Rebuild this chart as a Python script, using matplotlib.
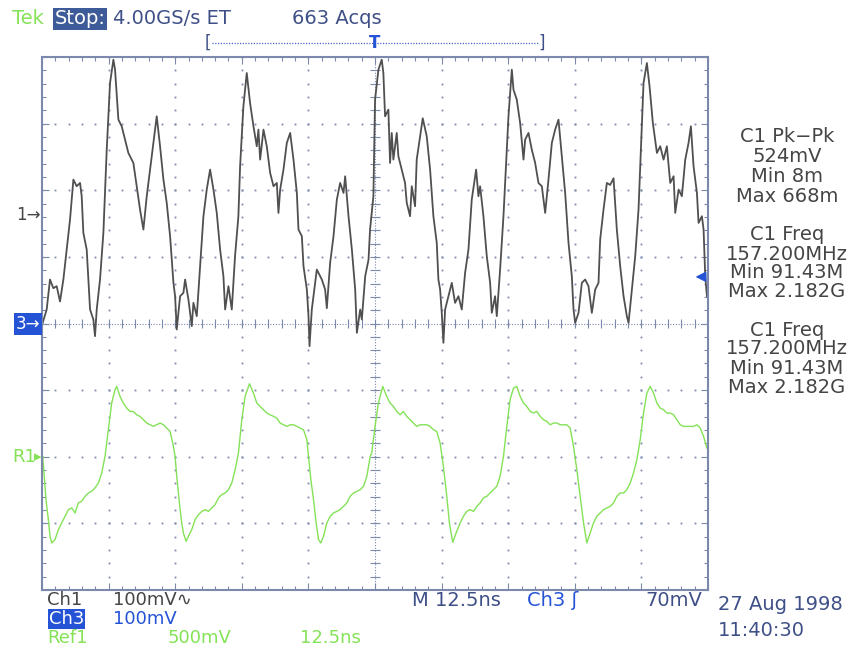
import numpy as np
import matplotlib.pyplot as plt

# Ch1 trace (time in ns, amplitude in mV, 100 mV/div)
ch1_t = [0.13, 0.88, 1.50, 2.13, 2.76, 3.38, 4.01, 4.63, 5.26, 5.89, 6.51, 7.14, 7.45, 7.76, 8.39,
         8.70, 9.02, 9.64, 9.95, 10.27, 10.89, 11.52, 12.15, 12.77, 13.40, 13.71, 14.34, 14.96, 15.59,
         16.21, 17.15, 17.78, 18.40, 19.03, 19.66, 20.28, 20.91, 21.53, 22.16, 22.79, 23.41, 24.04,
         24.67, 24.98, 25.29, 25.92, 26.54, 26.86, 27.48, 28.11, 28.42, 29.05, 29.67, 30.30, 30.92,
         31.55, 32.18, 32.80, 33.43, 34.05, 34.37, 34.99, 35.62, 36.23, 36.86, 37.18, 37.80, 38.43,
         39.05, 39.69, 40.31, 40.62, 40.94, 41.57, 42.19, 42.82, 43.45, 44.07, 44.38, 44.70, 45.32,
         45.95, 46.58, 47.20, 47.83, 48.14, 48.77, 49.08, 49.71, 50.02, 50.21, 50.64, 51.27, 51.58,
         52.52, 53.14, 53.46, 54.08, 54.71, 55.34, 55.96, 56.59, 56.90, 57.53, 58.16, 58.78, 59.10,
         59.72, 60.03, 60.66, 61.29, 61.57, 62.20, 62.51, 63.14, 63.76, 64.07, 64.39, 65.01, 65.33,
         65.64, 65.95, 66.58, 66.89, 67.52, 68.14, 68.46, 69.08, 69.40, 70.02, 70.33, 70.96, 71.46,
         72.21, 72.84, 73.46, 74.09, 74.40, 74.72, 75.03, 75.34, 75.66, 76.28, 76.91, 77.53, 78.16,
         78.79, 79.41, 80.04, 80.66, 81.48, 81.91, 82.23, 82.85, 83.48, 84.11, 84.42, 85.04, 85.36,
         85.98, 86.61, 86.92, 87.55, 88.18, 88.49, 89.11, 89.74, 90.37, 90.68, 91.31, 91.93, 92.56,
         93.18, 93.81, 94.44, 95.06, 95.69, 96.31, 96.94, 97.57, 98.19, 98.82, 99.44, 99.76, 100.07,
         100.70, 101.32, 101.95, 102.57, 103.20, 103.83, 104.45, 104.76, 105.39, 106.02, 106.64,
         107.27, 107.89, 108.52, 109.15, 109.77, 110.09, 110.71, 111.34, 111.96, 112.40, 112.90,
         113.53, 114.03, 114.65, 115.41, 116.03, 116.66, 117.28, 117.91, 118.54, 118.85, 119.48,
         120.10, 120.73, 121.35, 121.79, 122.29, 122.92, 123.23, 123.86, 124.17, 124.48, 124.80]
ch1_mv = [-162, -142, -97, -110, -107, -130, -97, -52, -7, 53, 43, 48, 28, -27, -52,
          -97, -142, -157, -182, -142, -97, -27, 98, 198, 233, 218, 143, 133, 113,
          93, 78, 43, 8, -22, 28, 68, 108, 148, 103, 53, 18, -32,
          -102, -122, -172, -122, -117, -97, -127, -167, -132, -152, -77, -2, 38,
          68, 38, 3, -52, -92, -142, -107, -142, -62, -2, 73, 163, 213,
          168, 133, 103, 128, 83, 128, 103, 63, 43, 48, 3, 38, 68,
          108, 123, 83, 33, -22, -32, -77, -112, -152, -197, -142, -102, -82,
          -97, -112, -140, -72, -32, 23, 48, 33, 58, -2, -52, -112, -177,
          -142, -157, -92, -67, -22, 28, 173, 218, 233, 213, 148, 158, 78,
          123, 83, 123, 88, 68, 48, 18, -2, 43, 13, 83, 118, 145,
          118, 68, -2, -42, -97, -112, -147, -192, -142, -122, -102, -132, -122,
          -142, -87, -52, 23, 68, 28, 43, -2, -62, -102, -147, -122, -152,
          -82, -2, 48, 148, 218, 188, 173, 138, 83, 113, 123, 98, 78,
          48, 43, 3, 53, 108, 128, 143, 88, 33, -42, -92, -142, -162,
          -147, -102, -97, -107, -147, -112, -102, -37, 8, 48, 45,
          55, -22, -77, -122, -152, -162, -112, -62, 8, 98, 198,
          228, 193, 138, 93, 103, 83, 103, 48, 58, 3, 38,
          28, 83, 108, 133, 73, 33, -12, -2, -22, -92, -122]

# Ref1 trace (time in ns, amplitude in mV, 500 mV/div)
ref1_t = [0.13, 0.38, 0.75, 1.19, 1.50, 1.82, 2.44, 3.07, 3.69, 4.32, 4.95, 5.57, 6.20, 6.82, 7.45,
          8.08, 8.70, 9.33, 9.95, 10.58, 11.21, 11.83, 12.46, 13.08, 13.71, 14.02, 14.65, 15.27, 15.90,
          16.53, 17.15, 17.78, 18.40, 19.03, 19.66, 20.28, 20.91, 21.53, 22.16, 22.79, 23.41, 24.04,
          24.67, 24.98, 25.29, 25.60, 25.92, 26.23, 26.54, 27.04, 27.48, 28.11, 28.73, 29.36, 29.99,
          30.61, 31.24, 31.86, 32.49, 33.12, 33.74, 34.37, 34.99, 35.62, 36.25, 36.87, 37.50, 38.12,
          38.94, 39.69, 40.31, 40.94, 41.57, 42.19, 42.82, 43.45, 44.07, 44.70, 45.32, 45.95, 46.58,
          47.20, 47.83, 48.45, 49.08, 49.71, 50.02, 50.46, 50.96, 51.46, 51.90, 52.34, 52.84, 53.46,
          54.09, 54.71, 55.34, 55.96, 56.59, 57.22, 57.84, 58.47, 59.10, 59.72, 60.35, 60.97, 61.60,
          61.88, 62.51, 63.14, 63.95, 64.70, 65.33, 65.95, 66.58, 67.20, 67.83, 68.46, 69.08, 69.71,
          70.33, 70.96, 71.59, 72.21, 72.84, 73.46, 74.09, 74.72, 75.34, 75.97, 76.47, 77.09, 77.72,
          78.47, 79.10, 79.72, 80.35, 80.98, 81.60, 82.23, 82.85, 83.48, 84.11, 84.73, 85.36, 85.98,
          86.61, 87.24, 87.86, 88.49, 89.11, 89.74, 90.37, 90.99, 91.62, 92.24, 92.87, 93.50, 94.12,
          94.75, 95.37, 96.00, 96.63, 97.25, 97.88, 98.50, 99.13, 99.76, 100.38, 101.01, 101.64,
          102.26, 102.89, 103.51, 104.14, 104.76, 105.39, 106.02, 106.64, 107.27, 107.89, 108.52,
          109.15, 109.77, 110.40, 111.02, 111.65, 112.28, 112.90, 113.53, 114.15, 114.78, 115.41,
          116.03, 116.66, 117.28, 117.91, 118.54, 119.16, 119.79, 120.42, 121.04, 121.67, 122.29,
          122.92, 123.54, 124.17, 124.80]
ref1_mv = [3, -122, -322, -472, -597, -647, -622, -547, -497, -447, -397, -384, -422, -347, -334,
           -297, -272, -259, -234, -197, -122, 3, 203, 403, 503, 528, 453, 403, 365,
           340, 340, 315, 303, 278, 253, 240, 228, 240, 253, 240, 215, 190,
           78, 3, -147, -272, -397, -497, -572, -635, -597, -547, -472, -435, -410,
           -397, -410, -384, -359, -309, -284, -272, -247, -197, -97, 28, 278, 453,
           548, 478, 403, 378, 353, 328, 315, 303, 290, 253, 240, 228, 240,
           240, 228, 215, 203, 128, 3, -172, -322, -497, -622, -647, -597, -497,
           -447, -422, -410, -397, -372, -347, -297, -272, -259, -247, -222, -147, 3,
           28, 228, 403, 528, 453, 403, 378, 340, 315, 340, 303, 278, 253,
           228, 240, 240, 240, 228, 203, 190, 103, -72, -297, -497, -642, -572,
           -497, -447, -410, -397, -410, -372, -347, -309, -297, -272, -247, -222, -147,
           3, 228, 428, 515, 528, 453, 403, 378, 340, 328, 340, 303, 278,
           265, 240, 253, 253, 240, 240, 240, 215, 78, -97, -297, -497,
           -647, -572, -497, -447, -422, -397, -384, -372, -347, -297, -272,
           -272, -247, -197, -122, -22, 128, 328, 478, 528, 478, 403,
           365, 353, 328, 328, 315, 278, 240, 228, 228, 228, 228,
           240, 215, 153, 65]

ns_per_div = 12.5
ch1_mv_per_div = 100
ref1_mv_per_div = 500
ch1_pos = 1.63    # divisions above screen centre
ref1_pos = -2.0

W, H = 867, 649
GRID = '#7d88ad'
SLATE = '#3f5088'
GREEN = '#84e257'
DARK = '#454545'
BLUE = '#2553d6'


def fx(x):
    return x / W


def fy(y):
    return 1 - y / H


fig = plt.figure(figsize=(W / 100, H / 100), dpi=100)
ax = fig.add_axes([fx(42), fy(590), 666 / W, 533 / H])
ax.set_xlim(0, 10)
ax.set_ylim(-4, 4)

# graticule
gx = np.arange(0, 10.01, 0.2)
gy = np.arange(-4, 4.01, 0.2)
for yl in [-3, -2, -1, 1, 2, 3]:
    ax.plot(gx, np.full_like(gx, yl), ls='none', marker='s', ms=1.3, mew=0, color=GRID)
for xl in [1, 2, 3, 4, 6, 7, 8, 9]:
    ax.plot(np.full_like(gy, xl), gy, ls='none', marker='s', ms=1.3, mew=0, color=GRID)
ax.axhline(0, color=GRID, lw=0.8, ls=(0, (1, 1.5)))
ax.axvline(5, color=GRID, lw=0.8, ls=(0, (1, 1.5)))
ax.vlines(gx, -0.07, 0.07, color=GRID, lw=0.8)
ax.hlines(gy, 4.93, 5.07, color=GRID, lw=0.8)

ax.set_xticks(range(11))
ax.set_yticks(range(-4, 5))
ax.set_xticks(gx, minor=True)
ax.set_yticks(gy, minor=True)
ax.tick_params(which='both', direction='in', top=True, right=True, color=GRID,
               labelbottom=False, labelleft=False)
ax.tick_params(which='major', length=5, width=0.8)
ax.tick_params(which='minor', length=3, width=0.8)
for s in ax.spines.values():
    s.set_color(GRID)
    s.set_linewidth(1.5)

# traces
ax.plot(np.array(ref1_t) / ns_per_div, np.array(ref1_mv) / ref1_mv_per_div + ref1_pos,
        color=GREEN, lw=1.0)
ax.plot(np.array(ch1_t) / ns_per_div, np.array(ch1_mv) / ch1_mv_per_div + ch1_pos,
        color='#505050', lw=1.3)

# trigger level arrow (70 mV on Ch3)
ax.annotate('', xy=(9.77, 0.7), xytext=(10.0, 0.7),
            arrowprops=dict(arrowstyle='-|>', color=BLUE, lw=1.2, mutation_scale=15),
            annotation_clip=False)

fs = 14
# header
fig.text(fx(12), fy(19), 'Tek', color=GREEN, fontsize=fs, va='center')
fig.text(fx(55), fy(19), 'Stop:', color='white', fontsize=fs, va='center',
         bbox=dict(boxstyle='square,pad=0.08', fc='#3d5b98', ec='none'))
fig.text(fx(113), fy(19), '4.00GS/s ET', color=SLATE, fontsize=fs, va='center')
fig.text(fx(292), fy(19), '663 Acqs', color=SLATE, fontsize=fs, va='center')

# record view bar
fig.add_artist(plt.Line2D([fx(212), fx(538)], [fy(43), fy(43)], color='#4466cc',
                          lw=0.9, ls=(0, (1, 1.2))))
fig.text(fx(208), fy(43), '[', color=SLATE, fontsize=12, va='center', ha='center')
fig.text(fx(542), fy(43), ']', color=SLATE, fontsize=12, va='center', ha='center')
fig.text(fx(375), fy(43), 'T', color=BLUE, fontsize=12, va='center', ha='center',
         fontweight='bold')

# channel markers
fig.text(fx(41), fy(215), '1\u2192', color=DARK, fontsize=12, va='center', ha='right')
fig.text(fx(40), fy(324), '3\u2192', color='white', fontsize=12, va='center', ha='right',
         bbox=dict(boxstyle='square,pad=0.12', fc=BLUE, ec='none'))
fig.text(fx(12), fy(457), 'R1', color=GREEN, fontsize=13, va='center')
fig.text(fx(42), fy(457), '\u25b8', color=GREEN, fontsize=11, va='center', ha='right')

# measurements
meas = ['C1 Pk\u2212Pk', '524mV', 'Min 8m', 'Max 668m',
        'C1 Freq', '157.200MHz', 'Min 91.43M', 'Max 2.182G',
        'C1 Freq', '157.200MHz', 'Min 91.43M', 'Max 2.182G']
meas_y = [137, 157, 177, 197, 235, 254, 273, 292, 330, 349, 368, 387]
for txt, yy in zip(meas, meas_y):
    fig.text(fx(787), fy(yy), txt, color=DARK, fontsize=fs, va='center', ha='center')

# footer
ff = 13
fig.text(fx(47), fy(600), 'Ch1', color=DARK, fontsize=ff, va='center')
fig.text(fx(113), fy(600), '100mV\u223f', color=DARK, fontsize=ff, va='center')
fig.text(fx(412), fy(601), 'M 12.5ns', color=SLATE, fontsize=fs, va='center')
fig.text(fx(527), fy(601), 'Ch3 \u0283', color=BLUE, fontsize=fs, va='center')
fig.text(fx(702), fy(601), '70mV', color=SLATE, fontsize=fs, va='center', ha='right')
fig.text(fx(718), fy(605), '27 Aug 1998', color=SLATE, fontsize=fs, va='center')
fig.text(fx(718), fy(631), '11:40:30', color=SLATE, fontsize=fs, va='center')
fig.text(fx(49), fy(619), 'Ch3', color='white', fontsize=ff, va='center',
         bbox=dict(boxstyle='square,pad=0.05', fc=BLUE, ec='none'))
fig.text(fx(113), fy(619), '100mV', color=BLUE, fontsize=ff, va='center')
fig.text(fx(47), fy(638), 'Ref1', color=GREEN, fontsize=ff, va='center')
fig.text(fx(168), fy(638), '500mV', color=GREEN, fontsize=ff, va='center')
fig.text(fx(300), fy(638), '12.5ns', color=GREEN, fontsize=ff, va='center')

fig.savefig('out.png', dpi=100)
